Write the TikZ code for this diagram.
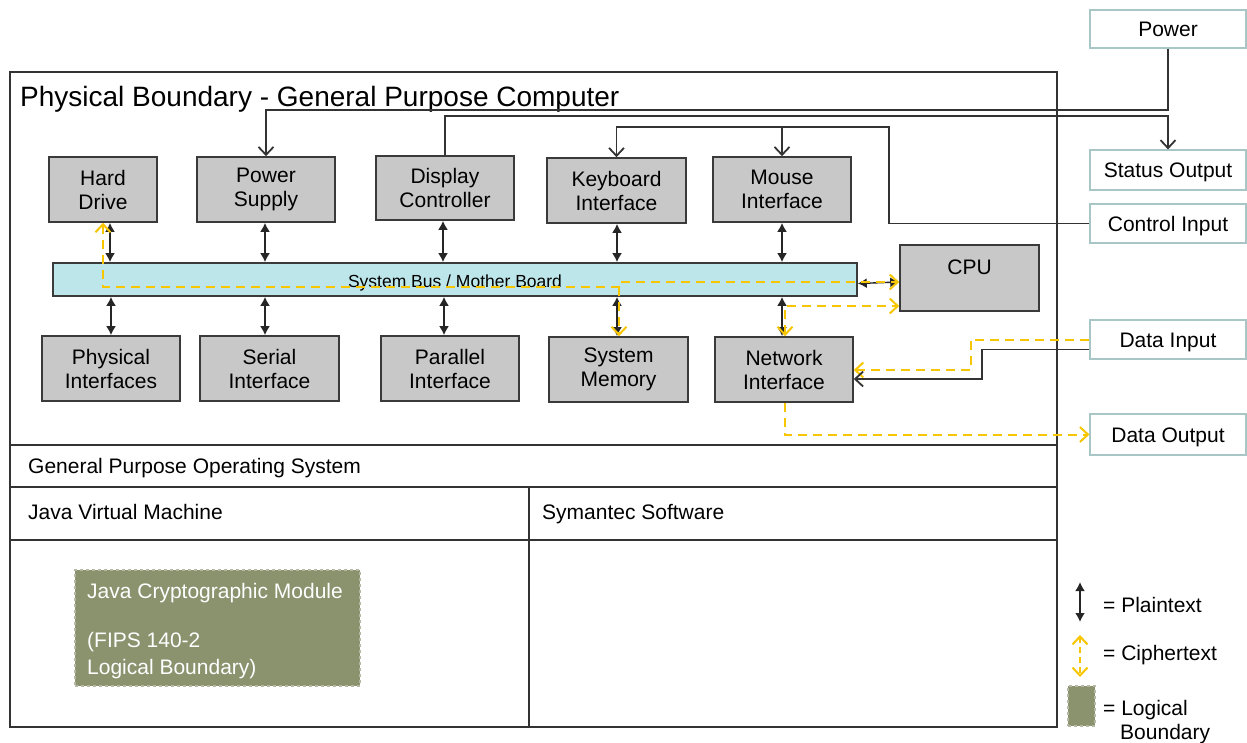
\documentclass[tikz,border=0pt]{standalone}
\usepackage{fontspec}
\setmainfont{Liberation Sans}
\usetikzlibrary{arrows.meta}
\definecolor{boxgray}{HTML}{C8C8C8}
\definecolor{boxline}{HTML}{3A3A3A}
\definecolor{busfill}{HTML}{BDE6EA}
\definecolor{cyell}{HTML}{F7C600}
\definecolor{olive}{HTML}{8A926E}
\definecolor{olivedge}{HTML}{B4B8A4}
\definecolor{extline}{HTML}{A8C6C6}
\definecolor{frameline}{HTML}{333333}
\begin{document}
\begin{tikzpicture}[x=1pt,y=-1pt,
  PL/.tip={Latex[length=9pt,width=10pt]},
  CB/.tip={Straight Barb[length=8pt,width=15pt]},
  hw/.style={draw=boxline, fill=boxgray, line width=1.6pt, align=center, inner sep=0pt, font=\fontsize{21}{24}\selectfont},
  ext/.style={draw=extline, fill=white, line width=1.2pt, inner sep=0pt, minimum width=156pt, text height=15pt, text depth=0pt, font=\fontsize{21}{24}\selectfont},
  txt/.style={inner sep=0pt, text height=15pt, text depth=0pt, font=\fontsize{21}{24}\selectfont},
  frame/.style={draw=frameline, line width=1.6pt},
  wire/.style={draw=frameline, line width=1.8pt},
  plain/.style={draw=black!85, line width=1.8pt, PL-PL},
  cipher/.style={draw=cyell, line width=2pt, dash pattern=on 9pt off 6pt},
  logic/.style={draw=olivedge, fill=olive, dashed, line width=1.2pt, inner sep=0pt},
]
\useasboundingbox (0,0) rectangle (1247,742);

% physical boundary frame and rows
\draw[frame] (10,72) rectangle (1057,727);
\draw[frame] (10,445) -- (1057,445);
\draw[frame] (10,487) -- (1057,487);
\draw[frame] (10,540) -- (1057,540);
\draw[frame] (529,487) -- (529,727);

\node[anchor=west, inner sep=0pt, text height=20pt, text depth=0pt, font=\fontsize{28}{32}\selectfont] (title) at (20,96) {Physical Boundary - General Purpose Computer};
\node[txt, anchor=west] (gpos) at (28,466) {General Purpose Operating System};
\node[txt, anchor=west] (jvm) at (28,512) {Java Virtual Machine};
\node[txt, anchor=west] (sym) at (542,512) {Symantec Software};

% hardware boxes
\node[hw, minimum width=108pt, minimum height=65pt] (hd) at (103,189.5) {Hard\\Drive};
\node[hw, minimum width=138pt, minimum height=65pt] (ps) at (266,189.5) {Power\\Supply};
\node[hw, minimum width=138pt, minimum height=64pt] (dc) at (445,188) {Display\\Controller};
\node[hw, minimum width=139pt, minimum height=65pt] (kb) at (616.5,190.5) {Keyboard\\Interface};
\node[hw, minimum width=138pt, minimum height=65pt] (ms) at (782,189.5) {Mouse\\Interface};
\node[hw, minimum width=139pt, minimum height=66pt] (cpu) at (969.5,278) {};
\node[txt] (cpulbl) at (969.5,267) {CPU};
\node[hw, fill=busfill, minimum width=804pt, minimum height=33pt] (bus) at (455,279.5) {};
\node[inner sep=0pt, text height=12.5pt, text depth=0pt, font=\fontsize{17.5}{20}\selectfont] (buslbl) at (455,281) {System Bus / Mother Board};
\node[hw, minimum width=138pt, minimum height=65pt] (pi) at (111,368.5) {Physical\\Interfaces};
\node[hw, minimum width=139pt, minimum height=65pt] (si) at (269.5,368.5) {Serial\\Interface};
\node[hw, minimum width=138pt, minimum height=65pt] (pa) at (450,368.5) {Parallel\\Interface};
\node[hw, minimum width=139pt, minimum height=65pt] (sm) at (618.5,369.5) {System\\Memory};
\node[hw, minimum width=138pt, minimum height=65pt] (ni) at (784,369.5) {Network\\Interface};

% external ports
\node[ext, minimum height=38pt] (pw) at (1168,29) {Power};
\node[ext, minimum height=40pt] (so) at (1168,170) {Status Output};
\node[ext, minimum height=39pt] (ci) at (1168,223.5) {Control Input};
\node[ext, minimum height=39pt] (di) at (1168,339.5) {Data Input};
\node[ext, minimum height=41pt] (do) at (1168,434.5) {Data Output};

% wires to/from external ports
\coordinate (p1) at (1168,110);
\draw[wire, -CB] (pw.south) -- (p1) -| (ps.north);
\coordinate (s1) at (1168,116);
\draw[wire, -CB] (dc.north) |- (s1) -- (so.north);
\coordinate (c1) at (889,127);
\draw[wire, -CB] (ci.west) -| (c1) -| (kb.north);
\draw[wire, -CB] (ms.north |- c1) -- (ms.north);

% plaintext bus connections
\draw[plain] (110,0 |- hd.south) -- (110,0 |- bus.north);
\draw[plain] (265,0 |- ps.south) -- (265,0 |- bus.north);
\draw[plain] (443,0 |- dc.south) -- (443,0 |- bus.north);
\draw[plain] (617,0 |- kb.south) -- (617,0 |- bus.north);
\draw[plain] (782,0 |- ms.south) -- (782,0 |- bus.north);
\draw[plain] (111,0 |- bus.south) -- (111,0 |- pi.north);
\draw[plain] (265,0 |- bus.south) -- (265,0 |- si.north);
\draw[plain] (444,0 |- bus.south) -- (444,0 |- pa.north);
\draw[plain] (617,0 |- bus.south) -- (617,0 |- sm.north);
\draw[plain] (782,0 |- bus.south) -- (782,0 |- ni.north);
\draw[plain, line width=1.4pt] ([yshift=-4pt]bus.east) -- ([yshift=-4pt]cpu.west);

% ciphertext paths
\coordinate (y1) at (103,287);
\coordinate (y2) at (619,287);
\coordinate (y3) at (619,282);
\draw[cipher, CB-CB] (103,0 |- hd.south) -- (y1) -- (y2) -- (y3) -- ([yshift=-4pt]cpu.west);
\draw[cipher, -CB] (y2) -- (619,0 |- sm.north);
\coordinate (y4) at (785,306);
\draw[cipher, CB-CB] (785,0 |- ni.north) -- (y4) -- ([yshift=-28pt]cpu.west);
\coordinate (d1) at (971,339.5);
\coordinate (d2) at (971,370);
\draw[cipher, -CB] (di.west) -- (d1) -- (d2) -- (ni.east |- d2);
\coordinate (d3) at (982,349.5);
\coordinate (d4) at (982,379);
\draw[wire, -CB] ([yshift=-10pt]di.west) -- (d3) -- (d4) -- (ni.east |- d4);
\draw[cipher, -CB] (785,0 |- ni.south) |- (do.west);

% Java cryptographic module
\node[logic, minimum width=285pt, minimum height=116pt] (jcm) at (217.5,628) {};
\node[inner sep=0pt, font=\fontsize{21}{27}\selectfont, text=white, anchor=north west, align=left] (jcmtext) at (87,583) {Java Cryptographic Module\\[22pt](FIPS 140-2\\Logical Boundary)};

% legend
\coordinate (l1) at (1080,582);
\coordinate (l2) at (1080,622);
\draw[plain] (l1) -- (l2);
\node[txt, anchor=west] (lp) at (1103,605) {= Plaintext};
\coordinate (l3) at (1080,635);
\coordinate (l4) at (1080,677);
\draw[cipher, dash pattern=on 6pt off 4pt, CB-CB] (l3) -- (l4);
\node[txt, anchor=west] (lc) at (1103,653) {= Ciphertext};
\node[logic, minimum width=27pt, minimum height=40pt] (ll) at (1081.5,706) {};
\node[txt, anchor=west] (llt) at (1103,708) {= Logical};
\node[txt, anchor=west] (llt2) at (1120,732) {Boundary};
\end{tikzpicture}
\end{document}
